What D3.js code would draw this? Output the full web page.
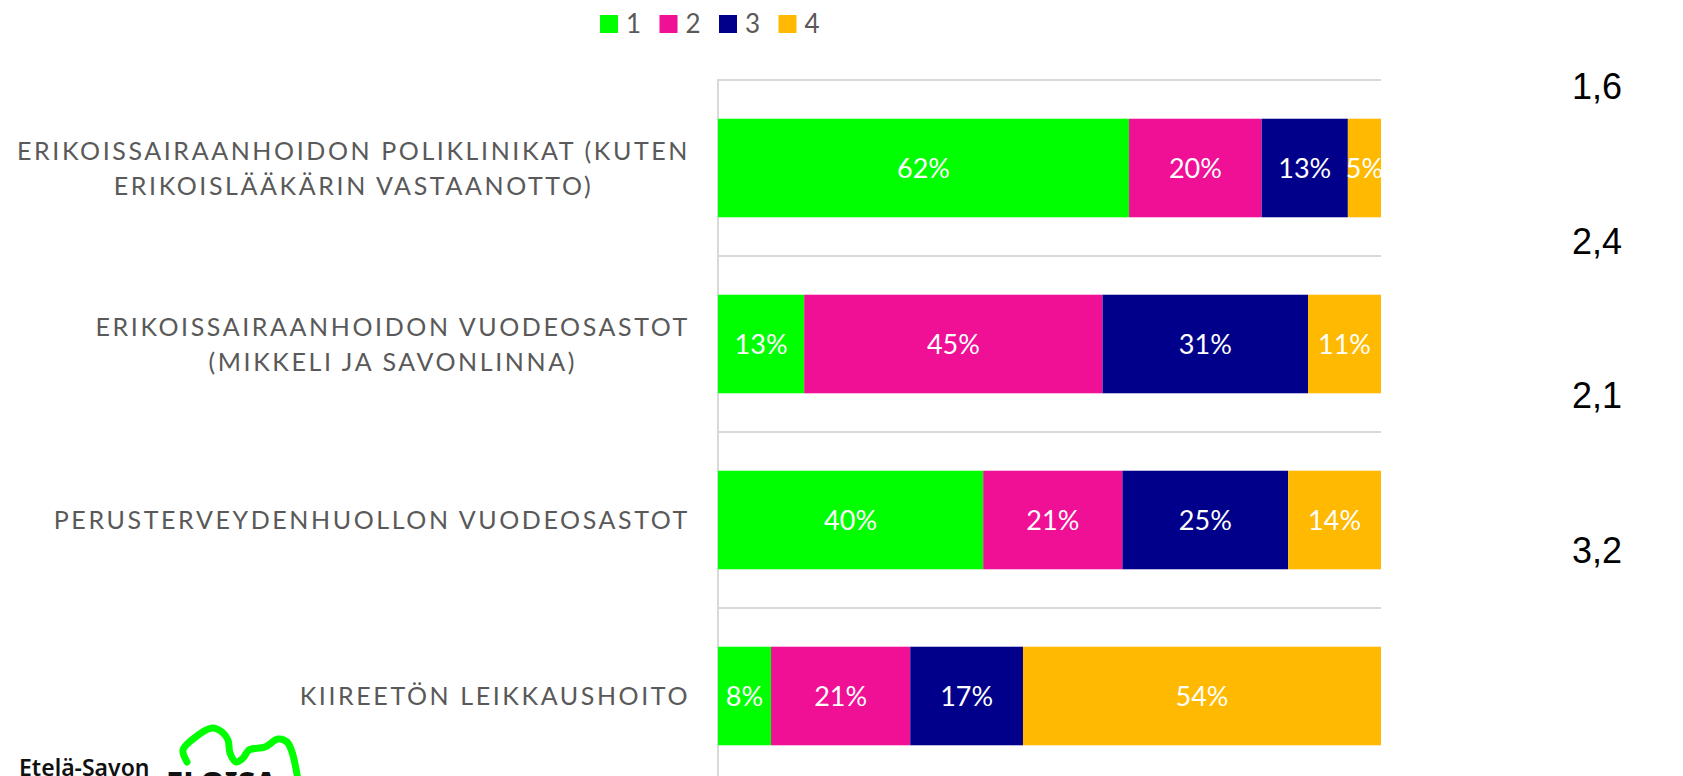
<!DOCTYPE html>
<html>
<head>
<meta charset="utf-8">
<script src="https://cdn.jsdelivr.net/npm/d3@7"></script>
<style>
  html, body { margin: 0; padding: 0; background: #fff; }
  svg { display: block; }
  .cat { font-family: Lato, "Open Sans", sans-serif; font-size: 25px; fill: #595959; letter-spacing: 2.6px; }
  .pct { font-family: Lato, "Open Sans", sans-serif; font-size: 27px; fill: #fff; }
  .leg { font-family: Lato, "Open Sans", sans-serif; font-size: 26px; fill: #595959; }
  .avg { font-family: "Liberation Sans", Arial, sans-serif; font-size: 36px; fill: #000; }
</style>
</head>
<body>
<svg></svg>
<script>
var width = 1683, height = 776;

// data
var categories = [
  ['ERIKOISSAIRAANHOIDON POLIKLINIKAT (KUTEN', 'ERIKOISLÄÄKÄRIN VASTAANOTTO)'],
  ['ERIKOISSAIRAANHOIDON VUODEOSASTOT', '(MIKKELI JA SAVONLINNA)'],
  ['PERUSTERVEYDENHUOLLON VUODEOSASTOT'],
  ['KIIREETÖN LEIKKAUSHOITO']
];
var seriesNames = ['1', '2', '3', '4'];
var s1 = [62, 13, 40, 8];
var s2 = [20, 45, 21, 21];
var s3 = [13, 31, 25, 17];
var s4 = [5, 11, 14, 54];
var averages = [1.6, 2.4, 2.1, 3.2];
var colors = ['#00ff00', '#ef1095', '#00008a', '#ffb900'];

var margin = {top: 80, left: 718, right: 302};
var plotBottom = 784; // plot runs past the bottom edge

var svg = d3.select('svg').attr('width', width).attr('height', height);

var x = d3.scaleLinear().domain([0, 100]).range([margin.left, width - margin.right]);
var y = d3.scaleBand()
    .domain(d3.range(categories.length))
    .range([margin.top, plotBottom])
    .paddingInner(0.44)
    .paddingOuter(0.22);

var rows = categories.map(function(c, i) {
  return {i: i, vals: [s1[i], s2[i], s3[i], s4[i]]};
});
var stack = d3.stack().keys([0, 1, 2, 3]).value(function(d, k) { return d.vals[k]; });
var layers = stack(rows);

// gridlines at the category boundaries
var bounds = d3.range(categories.length + 1).map(function(i) {
  return margin.top + i * y.step();
});
svg.append('g')
  .selectAll('line')
  .data(bounds)
  .enter().append('line')
    .attr('x1', x(0)).attr('x2', x(100))
    .attr('y1', function(d) { return d; })
    .attr('y2', function(d) { return d; })
    .attr('stroke', '#d9d9d9')
    .attr('stroke-width', 2);

svg.append('line')
  .attr('x1', x(0)).attr('x2', x(0))
  .attr('y1', margin.top - 1).attr('y2', height)
  .attr('stroke', '#d9d9d9')
  .attr('stroke-width', 2);

// bars
var g = svg.append('g')
  .selectAll('g')
  .data(layers)
  .enter().append('g')
    .attr('fill', function(d) { return colors[d.key]; });

g.selectAll('rect')
  .data(function(d) { return d; })
  .enter().append('rect')
    .attr('x', function(d) { return x(d[0]); })
    .attr('width', function(d) { return x(d[1]) - x(d[0]); })
    .attr('y', function(d) { return y(d.data.i); })
    .attr('height', y.bandwidth());

g.selectAll('text')
  .data(function(d) { return d; })
  .enter().append('text')
    .attr('class', 'pct')
    .attr('text-anchor', 'middle')
    .attr('x', function(d) { return (x(d[0]) + x(d[1])) / 2; })
    .attr('y', function(d) { return y(d.data.i) + y.bandwidth() / 2; })
    .attr('dy', '0.36em')
    .text(function(d) { return (d[1] - d[0]) + '%'; });

// category labels, lines centered on each other, block right aligned
var labelRight = 690, lineH = 35;
categories.forEach(function(lines, i) {
  var cy = y(i) + y.bandwidth() / 2;
  var t = svg.append('g');
  var texts = t.selectAll('text')
    .data(lines)
    .enter().append('text')
      .attr('class', 'cat')
      .attr('text-anchor', 'middle')
      .attr('y', function(d, k) { return cy + (k - (lines.length - 1) / 2) * lineH; })
      .attr('dy', '0.36em')
      .text(function(d) { return d; });
  var maxW = d3.max(texts.nodes(), function(n) { return n.getComputedTextLength(); });
  texts.attr('x', labelRight - maxW / 2);
});

// legend
var legend = svg.append('g')
  .selectAll('g')
  .data(seriesNames)
  .enter().append('g')
    .attr('transform', function(d, i) { return 'translate(' + (600 + i * 59.5) + ',15)'; });
legend.append('rect')
  .attr('width', 18).attr('height', 18)
  .attr('fill', function(d, i) { return colors[i]; });
legend.append('text')
  .attr('class', 'leg')
  .attr('x', 26).attr('y', 18)
  .text(function(d) { return d; });

// averages column
var ya = d3.scalePoint().domain(d3.range(averages.length)).range([99, 563]);
svg.append('g')
  .selectAll('text')
  .data(averages)
  .enter().append('text')
    .attr('class', 'avg')
    .attr('text-anchor', 'middle')
    .attr('x', 1597)
    .attr('y', function(d, i) { return ya(i); })
    .text(function(d) { return d3.format('.1f')(d).replace('.', ','); });

// logo at bottom left, cut by the page edge
var logo = svg.append('g');
logo.append('text')
  .attr('x', 19).attr('y', 776)
  .style('font-family', '"Noto Sans", sans-serif')
  .style('font-weight', 600)
  .style('font-size', '23px')
  .attr('fill', '#111')
  .text('Etelä-Savon');
logo.append('text')
  .attr('x', 166).attr('y', 794)
  .style('font-family', '"Noto Sans", sans-serif')
  .style('font-weight', 800)
  .style('font-size', '31px')
  .attr('fill', '#111')
  .text('ELOISA');
var logoPts = [[187, 762], [183, 750], [193, 739], [212, 728], [222, 732], [228, 740],
  [230, 753], [236, 762], [243, 758], [249, 750], [265, 747], [278, 739],
  [287, 742], [292, 752], [298, 780]];
logo.append('path')
  .attr('d', d3.line().curve(d3.curveCatmullRom)(logoPts))
  .attr('fill', 'none')
  .attr('stroke', '#00ff00')
  .attr('stroke-width', 7)
  .attr('stroke-linejoin', 'round')
  .attr('stroke-linecap', 'round');
</script>
</body>
</html>
